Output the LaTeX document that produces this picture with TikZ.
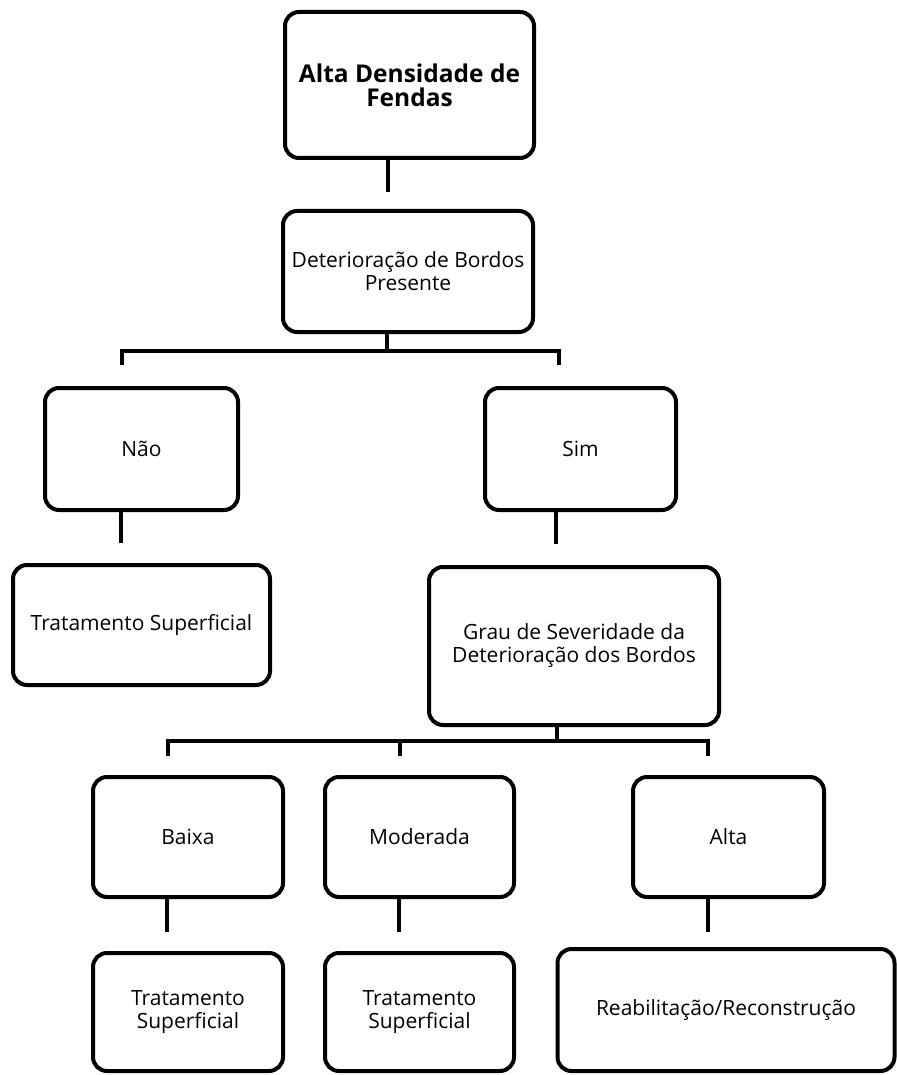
\documentclass[tikz,border=0pt]{standalone}
\usepackage{fontspec}
\setmainfont{Open Sans}
\begin{document}
\begin{tikzpicture}[x=1pt,y=-1pt,
  box/.style={draw, line width=4pt, rounded corners=14pt, align=center,
    inner sep=0pt, font=\fontsize{21}{23}\selectfont},
  link/.style={line width=4pt},
]
\useasboundingbox (0,0) rectangle (896,1075);

% boxes
\node[box, minimum width=249pt, minimum height=146pt,
  font=\bfseries\fontsize{24.5}{24}\selectfont] (top) at (409.5,85) {Alta Densidade de\\Fendas};
\node[box, minimum width=250pt, minimum height=121pt] (det) at (408,271.5) {Deterioração de Bordos\\Presente};
\node[box, minimum width=193pt, minimum height=122pt] (nao) at (141.5,449) {Não};
\node[box, minimum width=191pt, minimum height=122pt] (sim) at (580.5,449) {Sim};
\node[box, minimum width=257pt, minimum height=120pt] (trat1) at (141.5,625) {Tratamento Superficial};
\node[box, minimum width=290pt, minimum height=158pt] (grau) at (574,646) {Grau de Severidade da\\Deterioração dos Bordos};
\node[box, minimum width=190pt, minimum height=120pt] (baixa) at (188,837) {Baixa};
\node[box, minimum width=189pt, minimum height=120pt] (mod) at (419.5,837) {Moderada};
\node[box, minimum width=191pt, minimum height=120pt] (alta) at (728.5,837) {Alta};
\node[box, minimum width=190pt, minimum height=118pt] (trat2) at (188,1012) {Tratamento\\Superficial};
\node[box, minimum width=189pt, minimum height=118pt] (trat3) at (419.5,1012) {Tratamento\\Superficial};
\node[box, minimum width=337pt, minimum height=122pt] (reab) at (726,1010) {Reabilitação/Reconstrução};

% junction points
\coordinate (c1) at (388,192);
\coordinate (j1) at (387,351);
\coordinate (l1) at (122,365);
\coordinate (r1) at (559,365);
\coordinate (c2) at (121,543);
\coordinate (c3) at (556,544);
\coordinate (j2) at (557,741);
\coordinate (l2) at (168,756);
\coordinate (m2) at (400,756);
\coordinate (r2) at (708,756);
\coordinate (c4) at (167,932);
\coordinate (c5) at (399,932);
\coordinate (c6) at (708,932);

% connectors
\draw[link] (top.south -| c1) -- (c1);
\draw[link] (det.south -| j1) -- (j1);
\draw[link] (l1) |- (j1) -| (r1);
\draw[link] (nao.south -| c2) -- (c2);
\draw[link] (sim.south -| c3) -- (c3);
\draw[link] (grau.south -| j2) -- (j2);
\draw[link] (l2) |- (j2) -| (r2);
\draw[link] (m2) -- (m2 |- j2);
\draw[link] (baixa.south -| c4) -- (c4);
\draw[link] (mod.south -| c5) -- (c5);
\draw[link] (alta.south -| c6) -- (c6);
\end{tikzpicture}
\end{document}
